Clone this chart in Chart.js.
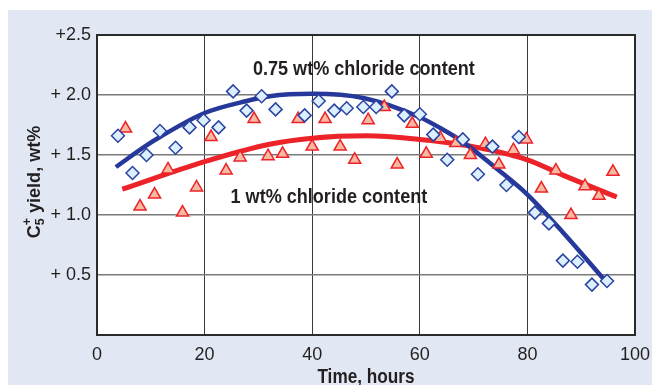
<!DOCTYPE html>
<html>
<head>
<meta charset="utf-8">
<script src="https://cdn.jsdelivr.net/npm/chart.js@4.4.0/dist/chart.umd.min.js"></script>
<style>
  html, body { margin: 0; padding: 0; background: #fff; }
  #wrap { position: relative; width: 652px; height: 385px; }
</style>
</head>
<body>
<div id="wrap"><canvas id="c" width="652" height="385"></canvas></div>
<script>
// Measured points, C5+ yield vs time on stream
const blueTime = [3.9, 6.6, 9.2, 11.7, 14.6, 17.2, 19.8, 22.6, 25.3, 27.8, 30.6, 33.2, 38.6, 41.2, 44.1, 46.4, 49.5, 51.9, 54.8, 57.1, 60.0, 62.5, 65.1, 68.0, 70.8, 73.5, 76.1, 78.4, 81.4, 84.0, 86.6, 89.3, 92.0, 94.8];
const blueYield = [1.66, 1.35, 1.50, 1.70, 1.56, 1.73, 1.79, 1.73, 2.03, 1.87, 1.99, 1.88, 1.83, 1.95, 1.87, 1.89, 1.90, 1.90, 2.03, 1.83, 1.84, 1.67, 1.46, 1.63, 1.34, 1.57, 1.25, 1.65, 1.02, 0.93, 0.62, 0.61, 0.42, 0.45];

const redTime = [5.3, 8.0, 10.7, 13.2, 15.9, 18.5, 21.2, 24.0, 26.6, 29.2, 31.8, 34.5, 37.4, 40.0, 42.4, 45.2, 47.9, 50.4, 53.4, 55.8, 58.6, 61.2, 63.8, 66.7, 69.4, 72.2, 74.7, 77.4, 79.8, 82.6, 85.3, 88.1, 90.7, 93.3, 95.9];
const redYield = [1.72, 1.07, 1.17, 1.38, 1.02, 1.23, 1.65, 1.37, 1.48, 1.80, 1.49, 1.51, 1.80, 1.57, 1.80, 1.57, 1.46, 1.79, 1.90, 1.42, 1.76, 1.51, 1.64, 1.60, 1.50, 1.59, 1.42, 1.54, 1.63, 1.22, 1.37, 1.00, 1.24, 1.16, 1.36];

// Fitted trend curves
const blueFitTime = [3.5, 9.2, 11.7, 20, 27.8, 32.1, 40, 49.5, 60, 63.8, 68, 74.2, 80, 86.7, 94.1];
const blueFitYield = [1.40, 1.58, 1.65, 1.85, 1.95, 1.99, 2.01, 1.975, 1.815, 1.725, 1.61, 1.39, 1.17, 0.85, 0.47];
const redFitTime = [4.7, 20, 32.1, 40, 50.1, 60, 68, 80, 86.7, 96.6];
const redFitYield = [1.215, 1.445, 1.59, 1.64, 1.66, 1.63, 1.585, 1.46, 1.33, 1.15];

const xTicks = [0, 20, 40, 60, 80, 100];
const yTicks = [0, 0.5, 1.0, 1.5, 2.0, 2.5];

const toXY = (xs, ys) => xs.map((x, i) => ({ x: x, y: ys[i] }));

const FONT = "'Liberation Sans', Arial, sans-serif";
const INK = '#231f20';

// draws text squeezed horizontally, like the condensed face of the original
function narrowText(ctx, text, x, y, font, sx) {
  ctx.save();
  ctx.font = font;
  ctx.translate(x, y);
  ctx.scale(sx, 1);
  ctx.fillText(text, 0, 0);
  ctx.restore();
}

// light blue panel behind everything
const panelBg = {
  id: 'panelBg',
  beforeDraw(chart) {
    const ctx = chart.ctx;
    ctx.save();
    ctx.fillStyle = '#e1e8f3';
    ctx.fillRect(8, 10, chart.width - 8, chart.height - 10);
    const a = chart.chartArea;
    ctx.fillStyle = '#ffffff';
    ctx.fillRect(a.left, a.top, a.right - a.left, a.bottom - a.top);
    ctx.restore();
  }
};

// frame + labels
const decorations = {
  id: 'decorations',
  afterDatasetsDraw(chart) {
    const ctx = chart.ctx;
    const a = chart.chartArea;
    const xs = chart.scales.x, ys = chart.scales.y;
    ctx.save();
    ctx.strokeStyle = '#2b2b2b';
    ctx.lineWidth = 2;
    ctx.strokeRect(a.left, a.top, a.right - a.left, a.bottom - a.top);

    ctx.fillStyle = INK;
    ctx.textAlign = 'center';
    ctx.textBaseline = 'alphabetic';
    const bold21 = 'bold 21px ' + FONT;
    narrowText(ctx, '0.75 wt% chloride content', xs.getPixelForValue(49.6), ys.getPixelForValue(2.17), bold21, 0.86);
    narrowText(ctx, '1 wt% chloride content', xs.getPixelForValue(43.1), ys.getPixelForValue(1.10), bold21, 0.86);

    // x axis title
    narrowText(ctx, 'Time, hours', 366, 383, 'bold 20px ' + FONT, 0.86);

    // y axis title with C5+ sub/superscript
    ctx.translate(40, 182);
    ctx.rotate(-Math.PI / 2);
    ctx.textAlign = 'left';
    const big = 'bold 19px ' + FONT, small = 'bold 13px ' + FONT;
    const sx = 0.95;
    ctx.scale(sx, 1);
    ctx.font = big;
    const rest = ' yield, wt%';
    const wC = ctx.measureText('C').width;
    const wRest = ctx.measureText(rest).width;
    ctx.font = small;
    const wS = Math.max(ctx.measureText('5').width, ctx.measureText('+').width);
    const total = wC + wS + wRest;
    const x0 = -total / 2;
    ctx.font = big;
    ctx.fillText('C', x0, 0);
    ctx.font = small;
    ctx.fillText('5', x0 + wC, 4);
    ctx.fillText('+', x0 + wC, -9);
    ctx.font = big;
    ctx.fillText(rest, x0 + wC + wS, 0);
    ctx.restore();
  }
};

new Chart(document.getElementById('c'), {
  type: 'scatter',
  data: {
    datasets: [
      {
        label: '0.75 wt% chloride content',
        data: toXY(blueTime, blueYield),
        pointStyle: 'rectRot',
        pointRadius: 6.5,
        backgroundColor: '#dcefff',
        borderColor: '#2b43a0',
        pointBorderWidth: 1.5
      },
      {
        label: '1 wt% chloride content',
        data: toXY(redTime, redYield),
        pointStyle: 'triangle',
        pointRadius: 7,
        backgroundColor: '#f8b9a2',
        borderColor: '#ec2328',
        pointBorderWidth: 1.5
      },
      {
        label: 'fit 0.75',
        data: toXY(blueFitTime, blueFitYield),
        showLine: true,
        pointRadius: 0,
        borderColor: '#26389a',
        borderWidth: 4.5,
        cubicInterpolationMode: 'monotone',
        fill: false
      },
      {
        label: 'fit 1',
        data: toXY(redFitTime, redFitYield),
        showLine: true,
        pointRadius: 0,
        borderColor: '#ec2328',
        borderWidth: 5,
        cubicInterpolationMode: 'monotone',
        fill: false
      }
    ]
  },
  options: {
    responsive: false,
    animation: false,
    events: [],
    layout: { padding: { left: 0, right: 17, top: 35, bottom: 0 } },
    plugins: {
      legend: { display: false },
      tooltip: { enabled: false }
    },
    scales: {
      x: {
        type: 'linear',
        min: 0,
        max: 100,
        afterBuildTicks: axis => { axis.ticks = xTicks.map(v => ({ value: v })); },
        afterFit: axis => {
          axis.height = 50;
          // let the end labels overhang, the frame is placed by layout padding
          axis.paddingLeft = 0;
          axis.paddingRight = 0;
        },
        grid: { color: '#3a3a3a', lineWidth: 1, drawTicks: false },
        border: { display: false },
        ticks: {
          padding: 9,
          color: INK,
          font: { family: FONT, size: 18 },
          maxRotation: 0
        }
      },
      y: {
        type: 'linear',
        min: 0,
        max: 2.5,
        afterBuildTicks: axis => { axis.ticks = yTicks.map(v => ({ value: v })); },
        afterFit: axis => { axis.width = 97; },
        grid: { color: '#7a7a7a', lineWidth: 1.5, drawTicks: false },
        border: { display: false },
        ticks: {
          padding: 6,
          color: INK,
          font: { family: FONT, size: 18 },
          callback: v => v === 0 ? '' : (v === 2.5 ? '+2.5' : '+ ' + v.toFixed(1))
        }
      }
    }
  },
  plugins: [panelBg, decorations]
});
</script>
</body>
</html>
